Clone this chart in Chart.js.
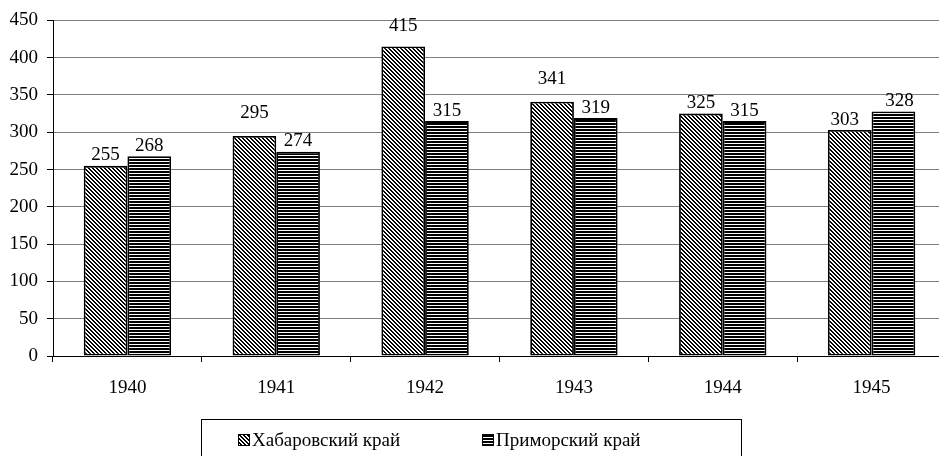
<!DOCTYPE html>
<html><head><meta charset="utf-8">
<script src="https://cdn.jsdelivr.net/npm/chart.js@4"></script>
<style>html,body{margin:0;padding:0;background:#fff;overflow:hidden}
#wrap{width:939px;height:456px;overflow:hidden;position:relative;background:#fff}
#c{position:absolute;left:0;top:0}</style></head>
<body><div id="wrap"><canvas id="c" width="946" height="456" style="width:946px;height:456px"></canvas></div>
<script>
const categories = ['1940', '1941', '1942', '1943', '1944', '1945'];
const seriesNames = ['Хабаровский край', 'Приморский край'];
const khabarovsk = [255, 295, 415, 341, 325, 303];
const primorsky = [268, 274, 315, 319, 315, 328];
const yTickValues = [0, 50, 100, 150, 200, 250, 300, 350, 400, 450];

const FONT = '"Liberation Serif", "Times New Roman", serif';
const FS = 19;

function diagPattern(ctx) {
  const c = document.createElement('canvas'); c.width = 4; c.height = 4;
  const x = c.getContext('2d');
  x.fillStyle = '#fff'; x.fillRect(0, 0, 4, 4);
  x.fillStyle = '#000';
  for (let y = 0; y < 4; y++) for (let i = 0; i < 2; i++) x.fillRect((y + i) % 4, y, 1, 1);
  return ctx.createPattern(c, 'repeat');
}
function horizPattern(ctx) {
  const c = document.createElement('canvas'); c.width = 4; c.height = 3;
  const x = c.getContext('2d');
  x.fillStyle = '#fff'; x.fillRect(0, 0, 4, 3);
  x.fillStyle = '#000'; x.fillRect(0, 0, 4, 2);
  return ctx.createPattern(c, 'repeat');
}

const canvas = document.getElementById('c');
const ctx0 = canvas.getContext('2d');
const patterns = [diagPattern(ctx0), horizPattern(ctx0)];

// label adjustments (dataset index, point index) -> [dx, extra lift]
const labelAdjust = { '0-1': [0, 12], '0-2': [0, 10], '0-3': [0, 12], '0-5': [-5, 0], '1-5': [6, 0] };

const valueLabels = {
  id: 'valueLabels',
  afterDatasetsDraw(chart) {
    const ctx = chart.ctx;
    ctx.save();
    ctx.font = FS + 'px ' + FONT;
    ctx.fillStyle = '#000';
    ctx.textAlign = 'center';
    ctx.textBaseline = 'bottom';
    chart.data.datasets.forEach((ds, di) => {
      chart.getDatasetMeta(di).data.forEach((bar, i) => {
        const adj = labelAdjust[di + '-' + i] || [0, 0];
        ctx.fillText(String(ds.data[i]), bar.x + adj[0], bar.y - 1 - adj[1]);
      });
    });
    ctx.restore();
  }
};

const boxLegend = {
  id: 'boxLegend',
  afterDraw(chart) {
    const ctx = chart.ctx;
    ctx.save();
    ctx.strokeStyle = '#000';
    ctx.lineWidth = 1;
    ctx.strokeRect(201.5, 419.5, 540, 60);
    const items = [{ x: 238, tx: 252 }, { x: 482, tx: 496 }];
    ctx.font = FS + 'px ' + FONT;
    ctx.textBaseline = 'middle';
    ctx.textAlign = 'left';
    items.forEach((it, k) => {
      ctx.fillStyle = patterns[k];
      ctx.fillRect(it.x, 434, 12, 12);
      ctx.strokeStyle = '#000';
      ctx.lineWidth = 1;
      ctx.strokeRect(it.x + 0.5, 434.5, 11, 11);
      ctx.fillStyle = '#000';
      ctx.fillText(seriesNames[k], it.tx, 441);
    });
    ctx.restore();
  }
};

new Chart(canvas, {
  type: 'bar',
  data: {
    labels: categories,
    datasets: [
      { label: seriesNames[0], data: khabarovsk, backgroundColor: patterns[0], borderColor: '#000', borderWidth: 1.8, borderSkipped: false },
      { label: seriesNames[1], data: primorsky, backgroundColor: patterns[1], borderColor: '#000', borderWidth: 1.8, borderSkipped: false }
    ]
  },
  options: {
    responsive: false,
    animation: false,
    devicePixelRatio: 1,
    layout: { padding: { top: 17, left: 0, right: 0, bottom: 0 } },
    datasets: { bar: { categoryPercentage: 0.587, barPercentage: 1.0 } },
    plugins: { legend: { display: false }, tooltip: { enabled: false } },
    scales: {
      x: {
        grid: { offset: true, drawOnChartArea: false, color: '#000', tickLength: 6 },
        border: { display: true, color: '#000', width: 1 },
        ticks: { color: '#000', font: { family: FONT, size: FS }, padding: 15, maxRotation: 0 },
        afterFit(s) { s.height = 100; }
      },
      y: {
        min: 0, max: 450,
        afterBuildTicks(s) { s.ticks = yTickValues.map(v => ({ value: v })); },
        grid: { color: '#808080', tickColor: '#000', tickLength: 6 },
        border: { display: true, color: '#000', width: 1 },
        ticks: { color: '#000', font: { family: FONT, size: FS }, padding: 9 },
        afterFit(s) { s.width = 53; }
      }
    }
  },
  plugins: [valueLabels, boxLegend]
});
</script></body></html>
